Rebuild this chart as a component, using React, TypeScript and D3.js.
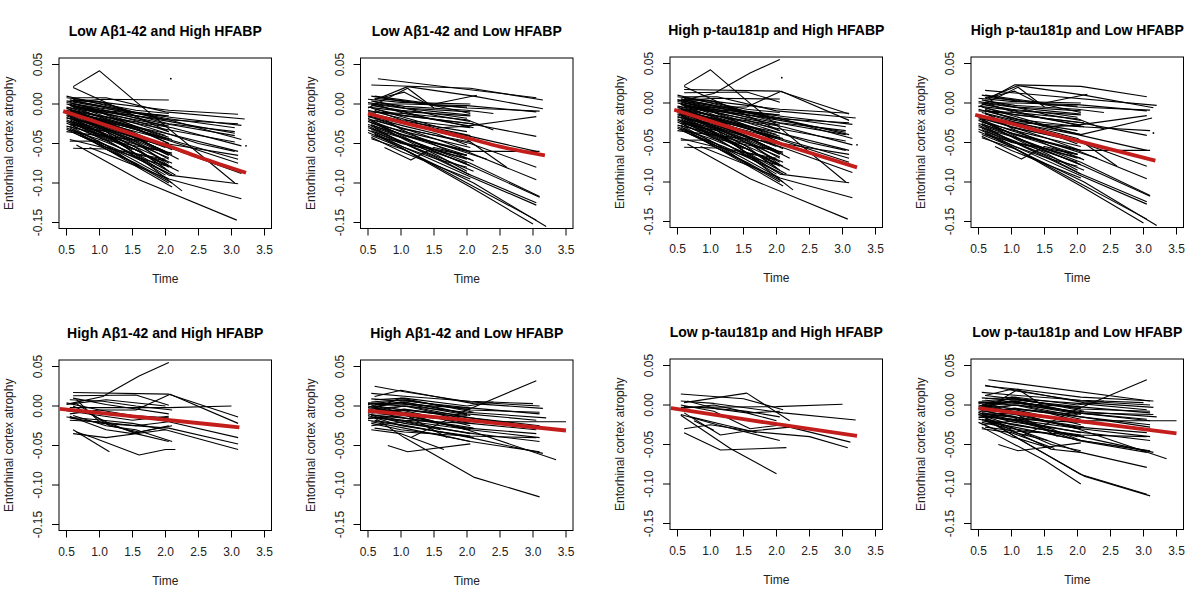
import React from 'react';
import * as d3 from 'd3';

// ---------- text ----------
const TITLES = [
  'Low Aβ1-42 and High HFABP',
  'Low Aβ1-42 and Low HFABP',
  'High p-tau181p and High HFABP',
  'High p-tau181p and Low HFABP',
  'High Aβ1-42 and High HFABP',
  'High Aβ1-42 and Low HFABP',
  'Low p-tau181p and High HFABP',
  'Low p-tau181p and Low HFABP',
];
const X_TICKS = [0.5, 1.0, 1.5, 2.0, 2.5, 3.0, 3.5];
const Y_TICKS = [0.05, 0.0, -0.05, -0.1, -0.15];
const X_LABEL = 'Time';
const Y_LABEL = 'Entorhinal cortex atrophy';

// ---------- subject trajectories (flat [t, y, t, y, ...]) ----------
// Low Aβ1-42 / High HFABP subjects (also in High p-tau181p / High HFABP)
const GROUP_A: number[][] = [
  [0.55, 0.005, 1.05, 0.002, 2.05, -0.008, 3.1, -0.013],
  [0.6, 0.008, 1.1, 0.008, 2.0, -0.01, 3.2, -0.019],
  [0.5, 0.002, 1.0, -0.005, 2.1, -0.017, 3.15, -0.027],
  [0.55, -0.002, 1.05, -0.008, 2.05, -0.022, 3.05, -0.037],
  [0.6, 0.0, 1.1, -0.01, 2.0, -0.025, 3.05, -0.04],
  [0.55, -0.005, 1.0, -0.015, 2.1, -0.03, 3.15, -0.053],
  [0.5, -0.008, 1.05, -0.02, 2.05, -0.038, 3.1, -0.06],
  [0.6, -0.012, 1.1, -0.025, 2.0, -0.045, 3.1, -0.075],
  [0.55, -0.015, 1.05, -0.03, 2.05, -0.055, 3.15, -0.088],
  [0.6, 0.022, 1.0, 0.042, 1.55, 0.003, 3.05, -0.1],
  [0.85, -0.055, 2.05, -0.095, 3.15, -0.12],
  [0.65, -0.052, 1.6, -0.096, 3.08, -0.147],
  [0.6, 0.021, 1.1, 0.002, 2.05, -0.035],
  [0.6, 0.003, 1.05, 0.006, 2.05, 0.005],
  [0.55, -0.047, 1.0, -0.047],
  [0.6, -0.056, 1.1, -0.057, 2.1, -0.105],
  [0.5, -0.02, 1.0, -0.04, 2.0, -0.05, 3.1, -0.065],
  [0.5, 0.0, 1.0, -0.01, 1.5, -0.02, 2.05, -0.035],
  [0.55, -0.01, 1.05, -0.025, 2.0, -0.06],
  [0.5, -0.015, 1.0, -0.03, 1.5, -0.045, 2.05, -0.07],
  [0.55, -0.02, 1.05, -0.038, 2.1, -0.08],
  [0.6, -0.025, 1.1, -0.045, 2.0, -0.09],
  [0.5, -0.03, 1.0, -0.05, 2.05, -0.1],
  [0.55, 0.005, 1.0, -0.002, 2.0, -0.02],
  [0.6, -0.003, 1.05, -0.012, 2.05, -0.045],
  [0.5, -0.005, 1.0, -0.02, 1.5, -0.035, 2.1, -0.058],
  [0.55, -0.012, 1.05, -0.03, 1.55, -0.05, 2.05, -0.075],
  [0.6, -0.018, 1.0, -0.035, 2.2, -0.085],
  [0.5, -0.022, 1.05, -0.04, 1.6, -0.06, 2.0, -0.082],
  [0.55, -0.028, 1.0, -0.048, 1.5, -0.07, 2.05, -0.095],
  [0.6, -0.032, 1.1, -0.052, 1.6, -0.08],
  [0.5, 0.008, 1.0, 0.003, 1.5, -0.01, 2.0, -0.015],
  [0.55, 0.0, 1.05, -0.015, 2.0, -0.04],
  [0.5, -0.01, 1.0, -0.018, 1.55, -0.03, 2.05, -0.05],
  [0.6, -0.015, 1.05, -0.022, 2.05, -0.065],
  [0.55, -0.025, 1.1, -0.035, 2.05, -0.068],
  [0.5, -0.035, 1.0, -0.04, 1.5, -0.058],
  [0.55, -0.03, 1.05, -0.055, 1.55, -0.075, 2.1, -0.1],
  [0.6, -0.008, 1.0, -0.02, 2.1, -0.045],
  [0.5, -0.004, 1.05, -0.012, 2.05, -0.028],
  [0.55, 0.002, 1.0, -0.008, 2.05, -0.015],
  [0.6, 0.006, 1.05, 0.0, 1.55, -0.008, 2.05, -0.012],
  [0.5, -0.018, 1.0, -0.025, 2.0, -0.055],
  [0.55, -0.022, 1.05, -0.032, 1.55, -0.048, 2.05, -0.078],
  [0.6, -0.028, 1.0, -0.042, 2.05, -0.088],
  [0.5, -0.012, 1.05, -0.028, 1.5, -0.04, 2.2, -0.07],
  [0.55, -0.016, 1.0, -0.03, 1.55, -0.055, 2.05, -0.085],
  [0.6, -0.02, 1.1, -0.035, 2.25, -0.11],
  [0.5, -0.006, 1.0, -0.015, 2.0, -0.032, 3.05, -0.048],
  [0.55, -0.01, 1.05, -0.02, 2.05, -0.045, 3.1, -0.07],
  [0.6, -0.004, 1.0, -0.01, 2.5, -0.05, 3.05, -0.06],
  [0.5, -0.024, 1.05, -0.045, 2.1, -0.062],
  [0.55, -0.033, 1.0, -0.045, 1.5, -0.062, 2.0, -0.07],
  [0.6, -0.036, 1.1, -0.055, 2.0, -0.072],
  [0.5, 0.004, 1.05, -0.004, 2.05, -0.025, 3.05, -0.035],
  [0.55, -0.008, 1.0, -0.016, 1.5, -0.028, 2.05, -0.042],
  [0.6, -0.01, 1.05, -0.022, 1.55, -0.038, 2.0, -0.052],
  [0.5, -0.028, 1.0, -0.038, 1.5, -0.05, 2.05, -0.062],
  [0.55, -0.018, 1.1, -0.04, 1.6, -0.065, 2.15, -0.09],
  [0.6, -0.024, 1.05, -0.036, 2.1, -0.075],
  [0.5, -0.014, 1.0, -0.022, 1.5, -0.03, 2.0, -0.045],
  [0.55, -0.002, 1.05, -0.018, 1.5, -0.03, 2.05, -0.05],
  [0.6, 0.0, 1.0, -0.006, 1.55, -0.018, 2.0, -0.028],
  [0.5, -0.009, 1.05, -0.03, 1.55, -0.046, 2.05, -0.065],
  [0.55, -0.026, 1.0, -0.034, 2.05, -0.09, 3.1, -0.101],
  [0.7, -0.04, 1.2, -0.055, 2.1, -0.09],
  [0.55, -0.045, 1.05, -0.055, 1.6, -0.078],
  [0.5, 0.01, 1.0, 0.0, 1.5, -0.01, 2.0, -0.02, 3.1, -0.025],
  [0.6, 0.004, 1.1, -0.004, 2.0, -0.018, 3.05, -0.03],
  [0.55, -0.001, 1.05, -0.01, 2.05, -0.02, 3.15, -0.045],
  [0.5, -0.017, 1.0, -0.028, 1.5, -0.042, 2.0, -0.06],
  [0.55, -0.008, 1.05, -0.026, 1.6, -0.045, 2.1, -0.064],
  [0.6, -0.022, 1.1, -0.042, 1.55, -0.058, 2.05, -0.08],
  [0.5, -0.032, 1.0, -0.052, 1.5, -0.066, 2.0, -0.078],
  [2.08, 0.032],
  [3.22, -0.053],
];

// Low Aβ1-42 / Low HFABP subjects (also in High p-tau181p / Low HFABP)
const GROUP_B: number[][] = [
  [0.6, 0.005, 1.1, 0.022, 2.1, 0.01, 3.15, -0.006],
  [0.5, 0.0, 1.05, 0.0, 2.0, -0.002, 3.05, -0.01],
  [0.55, -0.005, 1.6, -0.03, 2.0, -0.028, 3.05, -0.016],
  [0.6, -0.01, 1.1, -0.015, 2.05, -0.025, 3.05, -0.041],
  [0.5, -0.015, 1.05, -0.025, 2.0, -0.04, 3.05, -0.06],
  [0.55, -0.02, 1.0, -0.03, 2.05, -0.05, 3.05, -0.08],
  [0.6, -0.025, 1.05, -0.04, 2.0, -0.06, 3.05, -0.096],
  [0.5, -0.03, 1.1, -0.045, 2.05, -0.075, 3.1, -0.117],
  [0.55, -0.028, 1.0, -0.042, 2.1, -0.08, 3.1, -0.118],
  [0.6, -0.035, 1.05, -0.05, 2.0, -0.088, 3.05, -0.125],
  [0.5, -0.033, 1.05, -0.055, 2.05, -0.092, 3.05, -0.128],
  [0.55, -0.04, 1.0, -0.055, 2.0, -0.1, 3.05, -0.147],
  [0.6, -0.038, 1.1, -0.06, 2.05, -0.105, 3.0, -0.152],
  [0.55, -0.044, 1.05, -0.058, 2.1, -0.1, 3.2, -0.155],
  [0.5, -0.005, 1.1, 0.02, 1.5, -0.005],
  [0.7, 0.008, 1.05, 0.015, 1.4, 0.0, 2.05, -0.012],
  [0.75, -0.055, 1.15, -0.071, 1.5, -0.055, 2.0, -0.065],
  [0.6, 0.01, 1.5, 0.0, 2.15, 0.011],
  [0.5, 0.002, 1.05, -0.005, 2.05, -0.01],
  [0.55, -0.002, 1.0, -0.008, 1.5, -0.012, 2.0, -0.018],
  [0.6, -0.006, 1.05, -0.015, 2.1, -0.025],
  [0.5, -0.008, 1.0, -0.018, 1.5, -0.03, 2.05, -0.04],
  [0.55, -0.012, 1.05, -0.022, 2.0, -0.035],
  [0.6, -0.018, 1.0, -0.03, 1.55, -0.045, 2.05, -0.06],
  [0.5, -0.022, 1.05, -0.04, 2.0, -0.065],
  [0.55, -0.026, 1.1, -0.045, 1.6, -0.06, 2.05, -0.07],
  [0.6, -0.03, 1.0, -0.048, 2.1, -0.085],
  [0.5, -0.036, 1.05, -0.055, 1.55, -0.07, 2.0, -0.08],
  [0.55, -0.042, 1.0, -0.06, 2.05, -0.095],
  [0.6, 0.003, 1.05, -0.003, 2.0, -0.008, 2.4, -0.012],
  [0.5, 0.006, 1.0, 0.002, 2.05, 0.0],
  [0.55, -0.001, 1.05, -0.01, 1.5, -0.02, 2.05, -0.028],
  [0.6, -0.014, 1.1, -0.025, 2.0, -0.045, 2.6, -0.08],
  [0.5, -0.02, 1.0, -0.035, 2.3, -0.07],
  [0.55, -0.024, 1.05, -0.035, 2.05, -0.055],
  [0.6, 0.0, 1.05, -0.012, 2.0, -0.02, 2.4, -0.033],
  [0.5, -0.004, 1.1, -0.01, 2.05, -0.015],
  [0.55, 0.01, 1.05, 0.003, 2.0, -0.005, 3.1, -0.009],
  [0.6, -0.008, 1.0, -0.02, 2.05, -0.03],
  [0.5, -0.016, 1.05, -0.028, 1.55, -0.038, 2.0, -0.052],
  [0.55, -0.032, 1.1, -0.05, 2.0, -0.075],
  [0.6, -0.04, 1.05, -0.05, 2.0, -0.065],
  [0.5, -0.026, 1.0, -0.038, 2.05, -0.06, 3.1, -0.06],
  [0.55, 0.004, 1.05, -0.005, 1.55, -0.015, 2.05, -0.022],
  [0.6, -0.02, 1.05, -0.032, 2.05, -0.048],
  [0.5, -0.018, 1.0, -0.04, 1.5, -0.06, 2.05, -0.078],
  [0.55, -0.022, 1.05, -0.045, 1.55, -0.065, 2.0, -0.085],
  [0.6, -0.012, 1.0, -0.032, 1.6, -0.055, 2.1, -0.072],
  [0.5, -0.028, 1.05, -0.05, 1.5, -0.066, 2.05, -0.09],
  [0.55, 0.0, 1.0, -0.005, 1.55, -0.01, 2.05, -0.014],
  [0.6, 0.007, 1.05, 0.004, 1.5, -0.002, 2.0, -0.004],
  [0.5, -0.01, 1.05, -0.012, 1.55, -0.02, 2.1, -0.03],
  [0.55, -0.034, 1.0, -0.05, 1.5, -0.058, 2.0, -0.07],
];
// only in Low Aβ1-42 / Low HFABP
const GROUP_B_ONLY2: number[][] = [
  [0.65, 0.032, 3.05, 0.008],
  [0.55, 0.024, 2.05, 0.02, 3.15, 0.005],
];
// only in High p-tau181p / Low HFABP
const GROUP_B_ONLY4: number[][] = [
  [0.6, 0.016, 3.2, -0.003],
  [0.65, 0.005, 1.05, 0.023, 2.05, 0.021, 3.05, 0.008],
  [0.6, -0.01, 1.05, -0.02, 2.05, -0.04, 3.13, -0.019],
  [0.55, -0.02, 1.1, -0.025, 2.05, -0.03, 3.1, -0.035],
  [3.15, -0.038],
];

// High Aβ1-42 / High HFABP subjects that are also High p-tau181p
const GROUP_C_SHARED: number[][] = [
  [0.55, 0.003, 1.05, 0.012, 1.6, 0.038, 2.05, 0.055],
  [0.6, 0.017, 2.05, 0.015, 3.1, -0.014],
  [0.55, -0.01, 1.0, -0.005, 1.55, -0.005, 2.07, 0.015, 3.1, -0.022],
  [0.6, 0.013, 1.55, 0.014, 2.05, 0.001],
  [0.5, 0.004, 1.0, -0.005, 1.5, -0.012, 2.05, -0.02, 3.1, -0.04],
];
// remaining High Aβ1-42 / High HFABP subjects
const GROUP_C: number[][] = [
  [0.55, 0.008, 1.05, 0.006, 1.55, 0.0, 2.1, -0.005],
  [0.55, -0.002, 1.05, -0.002, 2.05, -0.002, 3.0, 0.0],
  [0.6, -0.012, 1.1, -0.025, 1.55, -0.03, 2.1, -0.045],
  [0.6, -0.03, 1.15, -0.058],
  [0.65, -0.033, 0.9, -0.04, 1.6, -0.062, 2.0, -0.055, 2.15, -0.055],
  [0.6, -0.035, 1.1, -0.04, 2.0, -0.03, 3.1, -0.055],
  [0.55, -0.015, 1.05, -0.022, 2.05, -0.028, 3.1, -0.048],
  [0.55, -0.013, 1.1, -0.03, 1.5, -0.035, 2.05, -0.025],
  [0.65, 0.008, 1.0, -0.02, 1.6, -0.035],
  [0.5, 0.002, 1.1, 0.008, 2.0, 0.0],
  [0.55, -0.005, 1.05, -0.01, 2.05, -0.015],
  [0.6, 0.0, 1.1, -0.02, 1.55, -0.035, 2.05, -0.045],
  [0.6, 0.01, 1.1, 0.002, 2.05, -0.01],
  [0.5, -0.006, 1.0, -0.012, 1.5, -0.018, 2.05, -0.013],
  [0.65, 0.003, 1.15, -0.025, 1.6, -0.033, 2.1, -0.025],
  [0.5, -0.014, 1.05, -0.018, 1.5, -0.022, 2.0, -0.03],
  [0.55, -0.018, 1.0, -0.02, 1.55, -0.025, 2.05, -0.02],
];

// High Aβ1-42 / Low HFABP subjects (also in Low p-tau181p / Low HFABP)
const GROUP_D: number[][] = [
  [0.6, 0.025, 1.05, 0.018, 2.05, 0.005, 3.1, 0.0],
  [0.55, 0.016, 1.1, 0.012, 2.05, 0.006, 3.0, 0.003],
  [0.6, 0.012, 1.0, 0.02, 2.1, 0.003, 3.15, -0.003],
  [1.15, -0.04, 2.0, -0.005, 3.05, 0.032],
  [0.8, -0.05, 1.1, -0.058, 2.05, -0.048],
  [0.6, -0.015, 1.05, -0.04, 2.1, -0.09, 3.1, -0.115],
  [0.55, -0.03, 1.0, -0.035, 1.65, -0.055],
  [0.5, 0.003, 1.05, 0.0, 2.0, -0.008, 3.2, -0.015],
  [0.55, -0.005, 1.1, -0.012, 2.05, -0.02, 3.5, -0.02],
  [0.6, -0.008, 1.05, -0.015, 2.0, -0.028, 3.05, -0.035],
  [0.5, -0.01, 1.0, -0.018, 2.05, -0.03, 3.1, -0.04],
  [0.55, -0.012, 1.05, -0.022, 2.1, -0.035, 3.1, -0.045],
  [0.6, -0.018, 1.1, -0.025, 2.05, -0.04, 3.15, -0.06],
  [0.5, 0.0, 1.05, -0.01, 2.0, -0.03, 3.35, -0.068],
  [0.55, 0.005, 1.0, 0.008, 2.05, -0.005, 3.1, -0.008],
  [0.6, 0.002, 1.05, 0.005, 2.0, -0.01, 3.05, -0.018],
  [0.5, -0.004, 1.1, 0.0, 2.05, -0.015, 3.1, -0.028],
  [0.55, -0.02, 1.05, -0.028, 2.05, -0.045, 3.1, -0.058],
  [0.5, 0.002, 1.05, 0.008, 1.5, 0.002, 2.05, -0.005],
  [0.55, -0.002, 1.0, 0.005, 1.55, -0.002, 2.0, -0.01],
  [0.6, -0.006, 1.05, 0.0, 1.5, -0.008, 2.05, -0.018],
  [0.5, -0.008, 1.0, -0.005, 1.55, -0.015, 2.05, -0.025],
  [0.55, -0.012, 1.05, -0.01, 2.0, -0.03],
  [0.6, -0.015, 1.1, -0.02, 1.6, -0.028, 2.05, -0.035],
  [0.5, -0.018, 1.05, -0.025, 2.1, -0.04],
  [0.55, -0.022, 1.0, -0.03, 1.5, -0.035, 2.05, -0.045],
  [0.6, 0.008, 1.05, 0.01, 2.0, 0.0, 2.4, 0.005],
  [0.5, 0.004, 1.1, 0.002, 2.05, -0.003],
  [0.55, -0.025, 1.05, -0.02, 1.6, -0.03],
  [0.6, 0.0, 1.0, -0.008, 1.7, -0.04],
  [0.5, -0.014, 1.05, -0.018, 2.05, -0.022],
  [0.55, -0.006, 1.1, -0.005, 2.0, -0.012],
  [0.6, -0.003, 1.0, 0.01, 1.5, 0.002, 2.1, -0.008],
  [0.6, -0.028, 1.05, -0.033, 2.0, -0.038, 3.05, -0.04],
  [0.5, -0.012, 1.0, -0.025, 1.55, -0.032, 2.05, -0.038],
  [0.55, 0.001, 1.05, -0.005, 2.05, -0.015, 3.1, -0.025],
  [0.5, -0.002, 1.0, 0.004, 1.5, -0.004, 2.05, -0.012],
  [0.55, -0.009, 1.05, -0.004, 1.55, -0.01, 2.0, -0.02],
  [0.6, -0.012, 1.0, -0.015, 1.5, -0.02, 2.1, -0.028],
  [0.5, -0.016, 1.05, -0.012, 1.6, -0.022, 2.05, -0.03],
  [0.55, 0.009, 1.1, 0.006, 2.0, -0.002, 3.1, -0.01],
  [0.6, -0.004, 1.05, -0.008, 2.05, -0.022, 3.05, -0.03],
];

// Low p-tau181p / High HFABP subjects
const GROUP_E: number[][] = [
  [0.55, 0.014, 1.5, 0.008, 2.1, -0.006],
  [0.6, 0.003, 1.55, 0.015, 2.2, -0.02],
  [0.55, -0.003, 2.0, -0.002, 3.0, 0.001],
  [0.55, 0.005, 1.05, 0.002, 2.1, -0.01, 3.2, -0.019],
  [0.6, -0.002, 1.0, -0.004, 1.55, -0.008, 2.05, -0.015],
  [0.5, -0.005, 1.05, 0.0, 1.6, -0.01, 2.05, -0.008],
  [0.55, -0.012, 1.1, -0.025, 2.05, -0.045],
  [0.6, -0.035, 1.15, -0.057, 2.15, -0.054],
  [0.55, -0.013, 1.3, -0.055, 2.0, -0.087],
  [0.6, -0.01, 1.15, -0.038, 1.55, -0.033, 2.5, -0.04, 3.08, -0.054],
  [0.75, -0.02, 1.05, -0.032],
  [0.6, -0.03, 1.0, -0.025, 1.6, -0.033, 2.2, -0.028, 3.12, -0.047],
  [0.65, 0.005, 1.1, -0.005, 1.55, -0.01, 2.0, -0.02],
  [0.55, 0.0, 1.05, -0.008, 1.6, -0.03, 2.1, -0.025],
  [0.7, -0.015, 1.2, -0.025, 1.7, -0.035],
];

// Low p-tau181p / Low HFABP subjects not in High Aβ1-42 / Low HFABP
const GROUP_H: number[][] = [
  [0.65, 0.032, 3.1, 0.005],
  [0.6, 0.024, 1.1, 0.02, 2.05, 0.01, 3.15, 0.005],
  [0.55, -0.028, 1.5, -0.07, 2.05, -0.1],
  [0.6, -0.018, 2.05, -0.088, 3.05, -0.113],
  [0.7, -0.02, 1.6, -0.056, 2.05, -0.06],
  [0.55, -0.015, 1.05, -0.03, 2.05, -0.06, 3.05, -0.079],
  [0.5, -0.01, 1.1, 0.02, 1.55, -0.005],
  [0.6, -0.02, 1.05, -0.035, 1.55, -0.045],
  [0.5, -0.005, 1.05, 0.005, 2.05, -0.01, 3.15, -0.012],
  [0.55, -0.01, 1.0, -0.015, 2.0, -0.045, 3.05, -0.06],
  [0.6, 0.012, 1.05, 0.008, 2.0, 0.002, 3.05, -0.006],
  [0.55, -0.018, 1.05, -0.03, 1.6, -0.05, 2.05, -0.058],
  [0.5, -0.022, 1.0, -0.04, 1.6, -0.055],
  [0.6, -0.008, 1.05, -0.015, 1.6, -0.03, 2.05, -0.045, 3.05, -0.058],
  [0.55, 0.0, 1.0, 0.005, 2.0, -0.01, 3.1, -0.02],
  [0.5, -0.012, 1.05, -0.02, 1.5, -0.03, 2.0, -0.04],
];

// ---------- fitted mean curves (red) ----------
const FIT_1 = [0.45, -0.009, 1.0, -0.024, 1.5, -0.038, 2.0, -0.052, 2.5, -0.067, 3.22, -0.087];
const FIT_2 = [0.5, -0.012, 1.0, -0.023, 1.5, -0.033, 2.0, -0.043, 2.5, -0.054, 3.18, -0.065];
const FIT_3 = [0.45, -0.0085, 1.0, -0.023, 2.0, -0.05, 3.22, -0.0815];
const FIT_4 = [0.45, -0.015, 1.0, -0.026, 1.5, -0.037, 2.0, -0.048, 3.18, -0.073];
const FIT_5 = [0.4, -0.0035, 1.5, -0.013, 3.12, -0.027];
const FIT_6 = [0.5, -0.006, 2.0, -0.018, 3.5, -0.031];
const FIT_7 = [0.4, -0.004, 1.5, -0.018, 3.22, -0.039];
const FIT_8 = [0.5, -0.004, 2.0, -0.02, 3.5, -0.036];

const PANEL_LINES: number[][][] = [
  GROUP_A,
  [...GROUP_B, ...GROUP_B_ONLY2],
  [...GROUP_A, ...GROUP_C_SHARED],
  [...GROUP_B, ...GROUP_B_ONLY4],
  [...GROUP_C, ...GROUP_C_SHARED],
  GROUP_D,
  GROUP_E,
  [...GROUP_D, ...GROUP_H],
];
const PANEL_FITS = [FIT_1, FIT_2, FIT_3, FIT_4, FIT_5, FIT_6, FIT_7, FIT_8];

// ---------- layout ----------
const BOX_LEFTS = [59, 360.5, 670, 971];
const BOX_TOPS = [[58, 57], [360, 359]];
const BOX_W = 212.5;
const BOX_H = 170.5;
const FONT = '"Liberation Sans", Arial, Helvetica, sans-serif';

function pairs(a: number[]): [number, number][] {
  const out: [number, number][] = [];
  for (let i = 0; i < a.length; i += 2) out.push([a[i], a[i + 1]]);
  return out;
}

function Panel({ idx }: { idx: number }) {
  const row = idx < 4 ? 0 : 1;
  const col = idx % 4;
  const L = BOX_LEFTS[col];
  const T = BOX_TOPS[row][col < 2 ? 0 : 1];
  const x = d3.scaleLinear().domain([0.5, 3.5]).range([L + 7.5, L + 205.5]);
  const y = d3.scaleLinear().domain([-0.15, 0.05]).range([T + 164.5, T + 6.5]);
  const line = d3
    .line<[number, number]>()
    .x((d) => x(d[0]))
    .y((d) => y(d[1]));
  const fitLine = d3
    .line<[number, number]>()
    .x((d) => x(d[0]))
    .y((d) => y(d[1]))
    .curve(d3.curveMonotoneX);
  const B = T + BOX_H;
  const cx = L + BOX_W / 2;
  const cy = T + BOX_H / 2;
  return (
    <g>
      <text x={cx} y={T - 27} textAnchor="middle" dominantBaseline="central" fontFamily={FONT} fontWeight="bold" fontSize={14} fill="#000">
        {TITLES[idx]}
      </text>
      {PANEL_LINES[idx].map((s, i) => {
        const p = pairs(s);
        if (p.length === 1) return <circle key={i} cx={x(p[0][0])} cy={y(p[0][1])} r={0.9} fill="#000" />;
        return <path key={i} d={line(p) || ''} fill="none" stroke="#000" strokeWidth={1.1} strokeLinejoin="round" />;
      })}
      <path d={fitLine(pairs(PANEL_FITS[idx])) || ''} fill="none" stroke="#c41e1c" strokeWidth={3.8} strokeLinecap="butt" />
      <rect x={L} y={T} width={BOX_W} height={BOX_H} fill="none" stroke="#000" strokeWidth={1} />
      {X_TICKS.map((t) => (
        <g key={'x' + t}>
          <line x1={x(t)} x2={x(t)} y1={B} y2={B + 7} stroke="#000" strokeWidth={1} />
          <text x={x(t)} y={B + 21.5} textAnchor="middle" dominantBaseline="central" fontFamily={FONT} fontSize={12} fill="#222">
            {t.toFixed(1)}
          </text>
        </g>
      ))}
      {Y_TICKS.map((t) => (
        <g key={'y' + t}>
          <line x1={L - 7} x2={L} y1={y(t)} y2={y(t)} stroke="#000" strokeWidth={1} />
          <text
            transform={`translate(${L - 21},${y(t)}) rotate(-90)`}
            textAnchor="middle"
            dominantBaseline="central"
            fontFamily={FONT}
            fontSize={12}
            fill="#222"
          >
            {t.toFixed(2)}
          </text>
        </g>
      ))}
      <text x={cx} y={B + 50} textAnchor="middle" dominantBaseline="central" fontFamily={FONT} fontSize={12} fill="#222">
        {X_LABEL}
      </text>
      <text
        transform={`translate(${L - 50},${cy}) rotate(-90)`}
        textAnchor="middle"
        dominantBaseline="central"
        fontFamily={FONT}
        fontSize={12}
        fill="#222"
      >
        {Y_LABEL}
      </text>
    </g>
  );
}

export default function App() {
  return (
    <svg width={1200} height={595} style={{ position: 'absolute', left: 0, top: 0, background: '#fff' }}>
      <rect x={0} y={0} width={1200} height={595} fill="#fff" />
      {TITLES.map((_, i) => (
        <Panel key={i} idx={i} />
      ))}
    </svg>
  );
}
